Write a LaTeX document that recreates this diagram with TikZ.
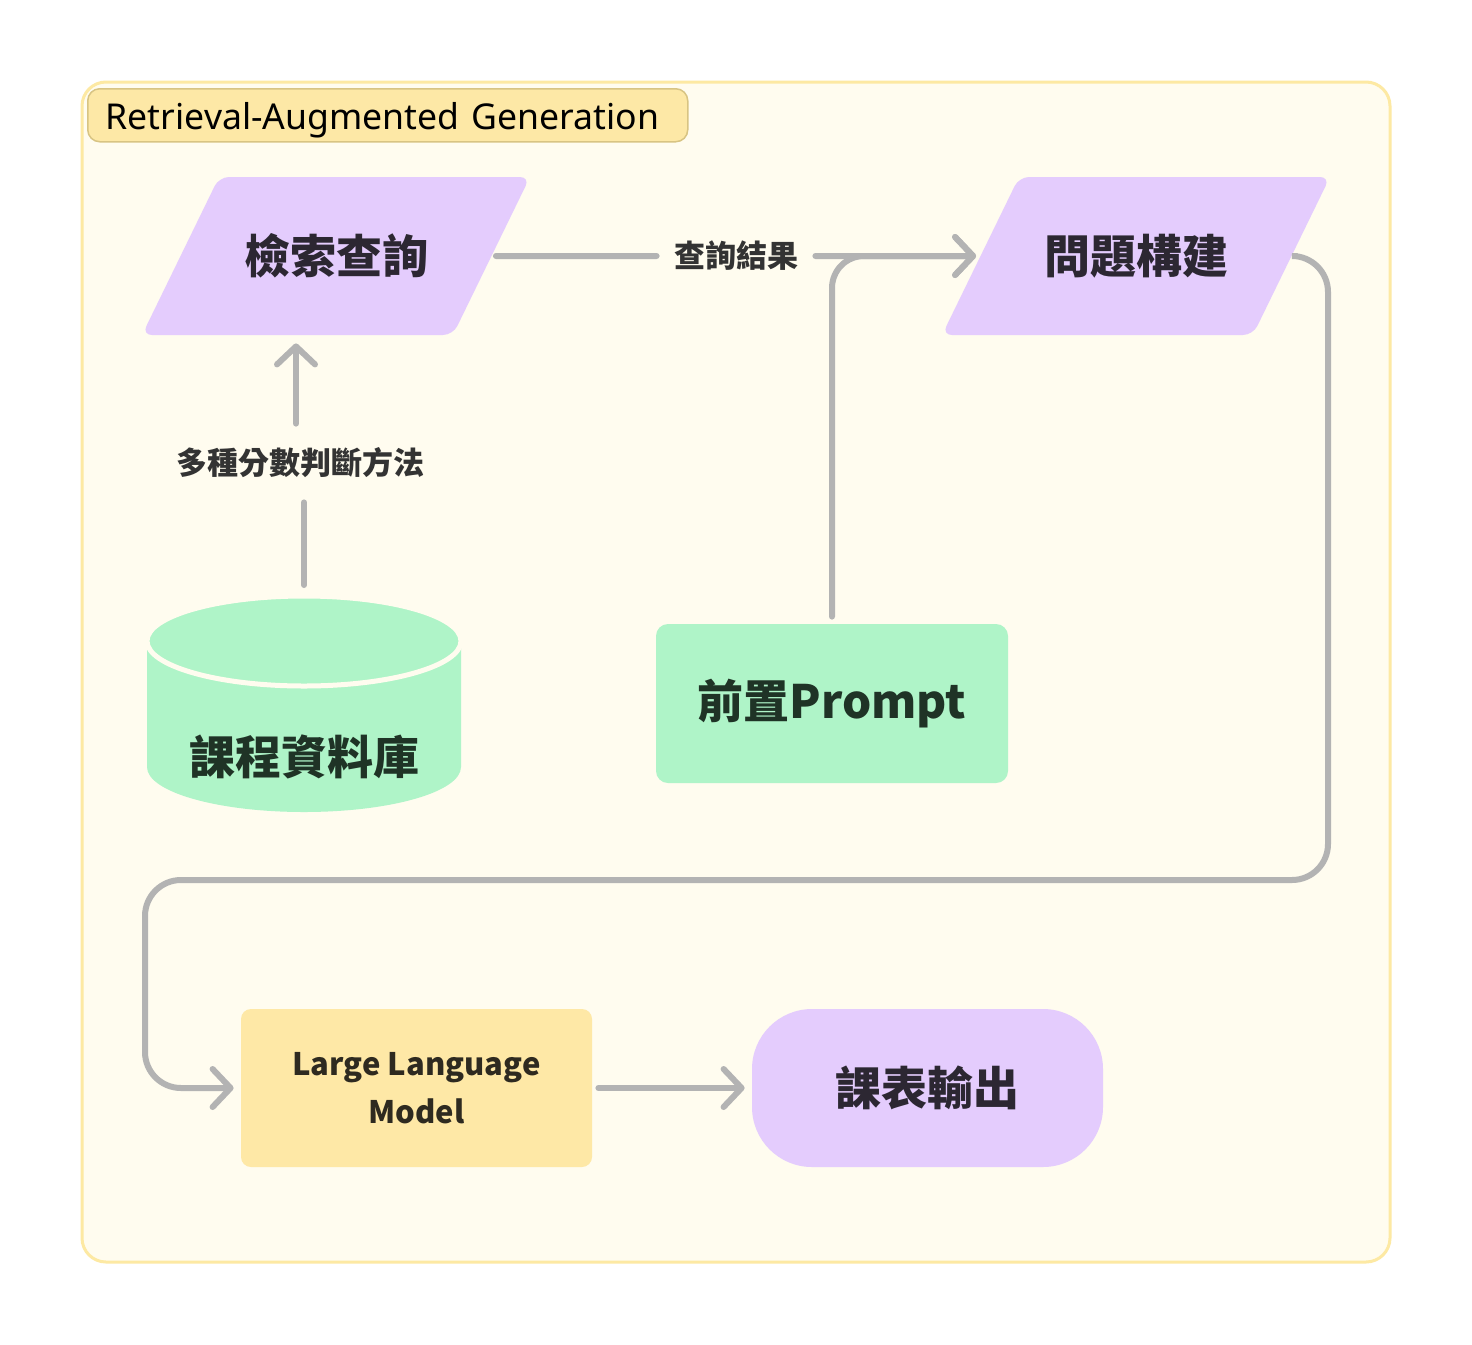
\documentclass[tikz,border=0pt]{standalone}
\usepackage{fontspec}
\setmainfont{Noto Sans CJK TC}
\newfontfamily\latinsans{Noto Sans}
\usetikzlibrary{positioning,shapes.geometric,arrows.meta}

\definecolor{framebg}{HTML}{FFFCEF}
\definecolor{framedraw}{HTML}{FDE9A3}
\definecolor{titlebg}{HTML}{FDE8A6}
\definecolor{titledraw}{HTML}{D8C483}
\definecolor{lavender}{HTML}{E4CCFD}
\definecolor{mint}{HTML}{AFF4C8}
\definecolor{butter}{HTML}{FEE8A6}
\definecolor{wire}{HTML}{B3B3B3}
\definecolor{inkpurple}{HTML}{2C2732}
\definecolor{inkgreen}{HTML}{1F3326}
\definecolor{inkbrown}{HTML}{2E2A20}
\definecolor{inklabel}{HTML}{333333}

\begin{document}
\begin{tikzpicture}[x=0.5pt,y=-0.5pt,
  big text/.style={font=\bfseries\fontsize{23}{28}\selectfont},
  io node/.style={trapezium,trapezium left angle=64,trapezium right angle=116,trapezium stretches body=true,
    fill=lavender,rounded corners=5pt,minimum width=194pt,text height=18pt,text depth=1pt,inner ysep=30pt,
    text=inkpurple,big text},
  green node/.style={rectangle,fill=mint,rounded corners=6pt,minimum width=176pt,minimum height=79.5pt,text=inkgreen,big text},
  edge label/.style={text=inklabel,font=\bfseries\fontsize{15.5}{18}\selectfont,inner sep=0pt},
  wire/.style={draw=wire,line width=3pt,line cap=round},
  arrow/.style={wire,-{Straight Barb[length=9pt,width=19pt,round]}}]

  % page and frame
  \fill[white] (0,0) rectangle (1472,1344);
  \useasboundingbox (0,0) rectangle (1472,1344);
  \draw[framedraw,fill=framebg,line width=1.5pt,rounded corners=12pt] (82,82) rectangle (1390,1262);
  \node[anchor=north west,fill=titlebg,draw=titledraw,line width=0.75pt,rounded corners=6pt,
    text height=20.5pt,text depth=6pt,inner ysep=0pt,text width=282pt,inner xsep=9pt,align=left,
    font=\latinsans\fontsize{17.8}{21}\selectfont] (title) at (87,88) {Retrieval-Augmented Generation};

  % course database (cylinder)
  \fill[mint] (147,641) -- (147,767) arc[start angle=180,end angle=360,x radius=78.5pt,y radius=22.5pt] -- (461,641) -- cycle;
  \draw[framebg,line width=2.5pt,fill=mint] (304,641) ellipse[x radius=78.5pt,y radius=22.5pt];
  \coordinate (dbtop) at (304,596);
  \node[text=inkgreen,big text] (db) at (304,757) {課程資料庫};

  % nodes
  \node[io node] (query) at (336,256) {檢索查詢};
  \node[io node] (ask) at (1136,256) {問題構建};
  \node[green node] (prompt) at (832,703.5) {前置Prompt};
  \node[rectangle,fill=butter,rounded corners=5pt,minimum width=175.5pt,minimum height=79pt,
    text=inkbrown,align=center,font=\bfseries\fontsize{15.5}{24}\selectfont] (llm) at (416.5,1088) {Large Language\\Model};
  \node[rectangle,fill=lavender,rounded corners=30pt,minimum width=175.5pt,minimum height=79pt,
    text=inkpurple,big text] (out) at (927.5,1088) {課表輸出};

  % edge labels
  \node[edge label,minimum width=79pt] (res) at (736,256) {查詢結果};
  \node[edge label,minimum height=39pt] (score) at (300,463) {多種分數判斷方法};

  % connectors
  \draw[wire,shorten <=2pt] (query.east) -- (res.west);
  \draw[arrow,shorten >=2pt] (res.east) -- (ask.west);
  \draw[arrow,rounded corners=16pt,shorten <=3.5pt,shorten >=2pt] (prompt.north) |- (ask.west);
  \draw[wire,shorten <=5.5pt] (dbtop) -- (dbtop |- score.south);
  \draw[arrow,shorten >=4pt] ([xshift=-2pt]score.north) -- ([xshift=-2pt]score.north |- query.south);
  \draw[arrow,rounded corners=18pt,shorten <=2.5pt,shorten >=3.5pt] (ask.east) -| (1328,880) -| (145,1088) -- (llm.west);
  \draw[arrow,shorten <=3pt,shorten >=3.5pt] (llm) -- (out);
\end{tikzpicture}
\end{document}
